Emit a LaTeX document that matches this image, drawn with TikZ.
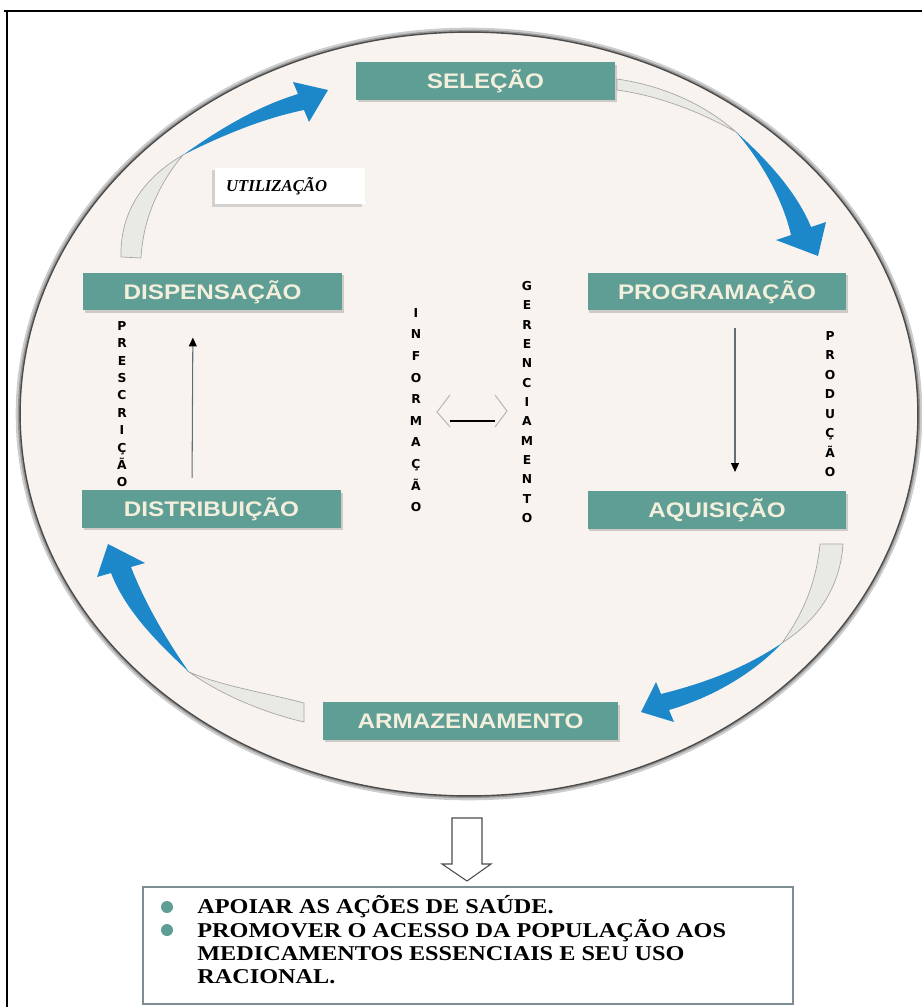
\documentclass[tikz,border=0pt]{standalone}
\usepackage{fontspec}
\setmainfont{Liberation Serif}
\setsansfont{Liberation Sans}
\newfontfamily\blackfont{DejaVu Sans}
\usepackage{tikz}
\usetikzlibrary{shapes.geometric, shadows, arrows.meta}
\definecolor{custom_teal}{HTML}{5F9E95}
\definecolor{custom_label}{HTML}{F4EFDC}
\definecolor{custom_cream}{HTML}{F9F3EF}
\definecolor{custom_blue}{HTML}{1C87C9}
\definecolor{custom_ribbon}{HTML}{EAEAE5}
\definecolor{custom_steel}{HTML}{7D8D93}
\definecolor{custom_line}{HTML}{5F6F75}
\newcommand{\esticar}[1]{\scalebox{1.15}[1]{#1}}

\begin{document}
\begin{tikzpicture}[x=0.02cm, y=-0.02cm]
            % Styles
            \tikzstyle{etapa} = [rectangle, fill=custom_teal, minimum width=5.18cm, minimum height=0.75cm, inner sep=0pt, text=custom_label, text height=8.6pt, text depth=0pt, font=\sffamily\bfseries\fontsize{12}{12}\selectfont, drop shadow={opacity=0.35, shadow xshift=1pt, shadow yshift=-1.5pt}]
            \tikzstyle{coluna} = [align=center, inner sep=0pt, anchor=north]
            \tikzstyle{fluxo} = [-{Triangle[length=5pt, width=4.5pt, color=black]}, draw=custom_line, line width=0.6pt]
            \tikzstyle{fita} = [fill=custom_ribbon, draw=gray!70, line width=0.4pt]
            \tikzstyle{curva} = [fill=custom_blue]
            \tikzstyle{linha} = [anchor=base west, inner sep=0pt, font=\bfseries\fontsize{12}{12}\selectfont]
            \tikzstyle{marca} = [circle, fill=custom_teal, minimum size=0.24cm, inner sep=0pt]

            \useasboundingbox (0,0) rectangle (922,1007);
            \draw[line width=0.8pt] (4,11) -- (922,11);
            \draw[line width=0.8pt] (7,11) -- (7,1007);

            % Cycle background
            \node[ellipse, draw=gray!60!black, line width=0.8pt, fill=custom_cream, minimum width=17.96cm, minimum height=15.28cm, inner sep=0pt, preaction={draw=black!20, line width=5pt}, preaction={draw=black!40, line width=2.5pt}] (ciclo) at (469,414) {};

            % Ribbon arrows
            \draw[fita] (121,257) .. controls (120,215) and (140,180) .. (183,155) .. controls (160,182) and (143,218) .. (141,258) -- cycle;
            \fill[curva] (183,155) .. controls (225,125) and (262,105) .. (298,94) -- (293,82) -- (328,90) -- (309,122) -- (304,110) .. controls (265,118) and (225,134) .. (183,155) -- cycle;

            \draw[fita] (617,79) .. controls (665,86) and (705,105) .. (736,132) .. controls (700,112) and (660,96) .. (617,90) -- cycle;
            \fill[curva] (736,132) .. controls (770,162) and (798,195) .. (811,227) -- (826,222) -- (818,256) -- (776,240) -- (791,235) .. controls (783,200) and (762,162) .. (736,132) -- cycle;

            \draw[fita] (820,544) -- (843,544) .. controls (840,590) and (815,622) .. (782,643) .. controls (802,615) and (816,585) .. (820,544) -- cycle;
            \fill[curva] (782,643) .. controls (745,668) and (705,683) .. (661,694) -- (656,682) -- (641,712) -- (674,722) -- (669,710) .. controls (710,698) and (752,675) .. (782,643) -- cycle;

            \draw[fita] (304,703) -- (304,722) .. controls (262,712) and (222,695) .. (189,672) .. controls (222,686) and (262,692) .. (304,703) -- cycle;
            \fill[curva] (189,672) .. controls (160,645) and (126,612) .. (111,573) -- (97,577) -- (108,544) -- (145,563) -- (131,567) .. controls (146,606) and (170,645) .. (189,672) -- cycle;

            % Nodes: Steps
            \node[etapa] (selecao) at (485.5,81) {\esticar{SELEÇÃO}};
            \node[etapa] (dispensacao) at (212.5,291.5) {\esticar{DISPENSAÇÃO}};
            \node[etapa] (programacao) at (717,291.5) {\esticar{PROGRAMAÇÃO}};
            \node[etapa] (distribuicao) at (211.5,509) {\esticar{DISTRIBUIÇÃO}};
            \node[etapa] (aquisicao) at (717,510) {\esticar{AQUISIÇÃO}};
            \node[etapa, minimum width=5.9cm] (armazenamento) at (470.5,721) {\esticar{ARMAZENAMENTO}};

            \node[rectangle, fill=white, text width=2.56cm, inner xsep=0.22cm, minimum height=0.74cm, align=left, font=\bfseries\itshape\fontsize{9.5}{9.5}\selectfont, drop shadow={opacity=0.3, shadow xshift=-1.5pt, shadow yshift=-1.5pt}] (utilizacao) at (290,186) {UTILIZAÇÃO};

            % Nodes: Vertical words
            \node[coluna, font=\blackfont\bfseries\fontsize{7}{9.9}\selectfont] (prescricao) at (122,321) {P\\R\\E\\S\\C\\R\\I\\Ç\\Ã\\O};
            \node[coluna, font=\blackfont\bfseries\fontsize{7}{12.3}\selectfont] (informacao) at (416,308) {I\\N\\F\\O\\R\\M\\A\\Ç\\Ã\\O};
            \node[coluna, font=\blackfont\bfseries\fontsize{7}{11}\selectfont] (gerenciamento) at (527,281) {G\\E\\R\\E\\N\\C\\I\\A\\M\\E\\N\\T\\O};
            \node[coluna, font=\blackfont\bfseries\fontsize{7}{11.1}\selectfont] (producao) at (830,331) {P\\R\\O\\D\\U\\Ç\\Ã\\O};

            % Straight arrows
            \draw[fluxo, shorten <=0.24cm, shorten >=0.54cm] ([xshift=-0.39cm]distribuicao.north) -- ([xshift=-0.39cm]dispensacao.south);
            \draw[fluxo, shorten <=0.34cm, shorten >=0.38cm] ([xshift=0.36cm]programacao.south) -- ([xshift=0.36cm]aquisicao.north);

            % Exchange arrow
            \draw[gray!55, line width=0.6pt] (450,395) -- (437,412) -- (450,427);
            \draw[gray!55, line width=0.6pt] (495,395) -- (507,411) -- (495,427);
            \draw[line width=0.8pt] (450,421) -- (495,421);

            % Outcome
            \draw[draw=gray!60!black, fill=white, line width=0.6pt] (452,818) -- (482,818) -- (482,864) -- (491,864) -- (467,881) -- (442,864) -- (452,864) -- cycle;
            \node[draw=custom_steel, line width=1.5pt, fill=white, minimum width=13cm, minimum height=2.34cm, inner sep=0pt] (objetivos) at (468,945.5) {};
            \node[marca] (marca1) at (167,907) {};
            \node[marca] (marca2) at (167,930) {};
            \node[linha] (linha1) at (197,913) {\esticar{APOIAR AS AÇÕES DE SAÚDE.}};
            \node[linha] (linha2) at (197,937) {\esticar{PROMOVER O ACESSO DA POPULAÇÃO AOS}};
            \node[linha] (linha3) at (197,960) {\esticar{MEDICAMENTOS ESSENCIAIS E SEU USO}};
            \node[linha] (linha4) at (197,983) {\esticar{RACIONAL.}};
        \end{tikzpicture}
\end{document}
